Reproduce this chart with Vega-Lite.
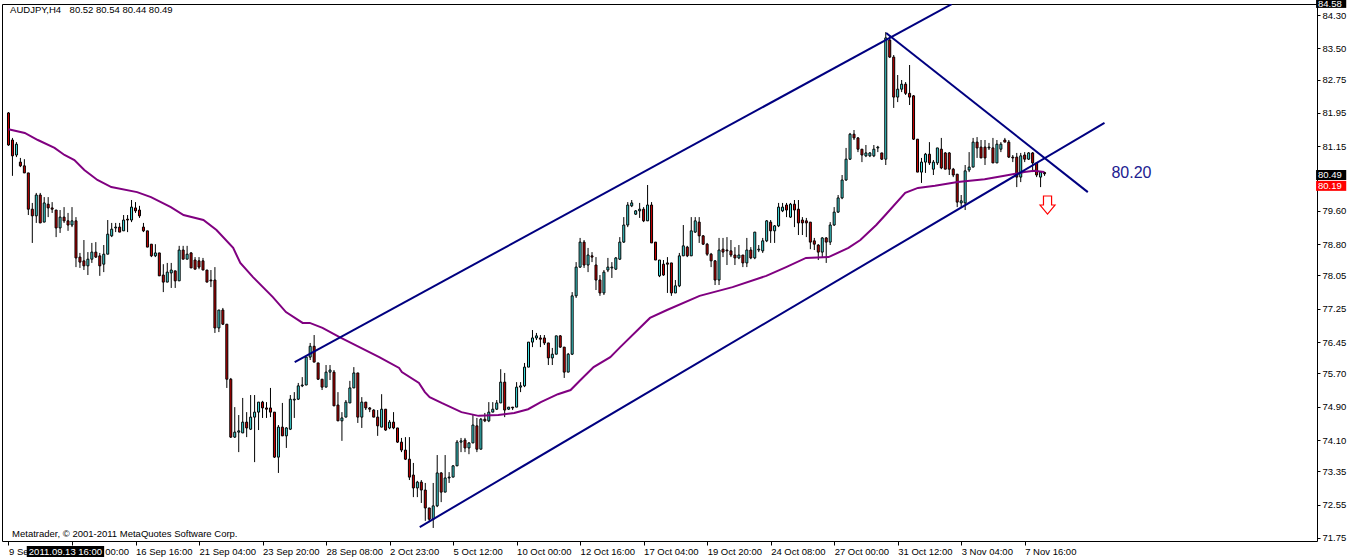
{
"$schema":"https://vega.github.io/schema/vega-lite/v6.json",
"width":1315,"height":537,
"autosize":"none",
"padding":{"left":2,"top":4,"right":39,"bottom":18},
"background":"#ffffff",
"config":{"view":{"stroke":"#000000","strokeWidth":1},"font":"Liberation Sans","axis":{"labelOverlap":false,"labelBound":false,"labelFlush":false,"grid":false}},
"resolve":{"axis":{"x":"independent","y":"independent"}},
"datasets":{
"c":[
{"i":0,"o":81.95,"h":81.97,"l":81.16,"c":81.18},{"i":1,"o":81.30,"h":81.35,"l":80.44,"c":80.92},{"i":2,"o":80.94,"h":81.25,"l":80.89,"c":81.20},{"i":3,"o":80.77,"h":80.87,"l":80.65,"c":80.68},{"i":4,"o":80.68,"h":80.84,"l":80.51,"c":80.51},{"i":5,"o":80.51,"h":80.51,"l":79.50,"c":79.64},{"i":6,"o":79.64,"h":79.79,"l":78.83,"c":79.48},{"i":7,"o":79.48,"h":80.03,"l":79.31,"c":79.98},{"i":8,"o":79.98,"h":80.03,"l":79.31,"c":79.31},{"i":9,"o":79.33,"h":79.93,"l":79.33,"c":79.79},
{"i":10,"o":79.76,"h":79.93,"l":79.45,"c":79.67},{"i":11,"o":79.67,"h":79.81,"l":79.55,"c":79.64},{"i":12,"o":79.62,"h":79.62,"l":78.97,"c":79.19},{"i":13,"o":79.19,"h":79.62,"l":79.07,"c":79.45},{"i":14,"o":79.45,"h":79.69,"l":79.31,"c":79.36},{"i":15,"o":79.36,"h":79.55,"l":79.12,"c":79.26},{"i":16,"o":79.26,"h":79.69,"l":79.21,"c":79.36},{"i":17,"o":79.36,"h":79.45,"l":78.25,"c":78.47},{"i":18,"o":78.49,"h":78.59,"l":78.23,"c":78.37},{"i":19,"o":78.40,"h":78.90,"l":78.18,"c":78.28},
{"i":20,"o":78.28,"h":78.61,"l":78.06,"c":78.44},{"i":21,"o":78.44,"h":78.83,"l":78.35,"c":78.61},{"i":22,"o":78.61,"h":78.85,"l":78.47,"c":78.49},{"i":23,"o":78.52,"h":78.59,"l":78.04,"c":78.28},{"i":24,"o":78.32,"h":78.78,"l":78.13,"c":78.56},{"i":25,"o":78.56,"h":79.38,"l":78.56,"c":79.04},{"i":26,"o":79.00,"h":79.31,"l":78.97,"c":79.16},{"i":27,"o":79.19,"h":79.31,"l":79.09,"c":79.21},{"i":28,"o":79.21,"h":79.31,"l":79.09,"c":79.09},{"i":29,"o":79.12,"h":79.50,"l":79.12,"c":79.38},
{"i":30,"o":79.40,"h":79.50,"l":79.09,"c":79.38},{"i":31,"o":79.38,"h":79.86,"l":79.33,"c":79.69},{"i":32,"o":79.67,"h":79.81,"l":79.55,"c":79.60},{"i":33,"o":79.62,"h":79.72,"l":79.43,"c":79.48},{"i":34,"o":79.21,"h":79.31,"l":79.09,"c":79.12},{"i":35,"o":79.12,"h":79.12,"l":78.73,"c":78.73},{"i":36,"o":78.80,"h":78.80,"l":78.49,"c":78.52},{"i":37,"o":78.52,"h":78.80,"l":78.49,"c":78.59},{"i":38,"o":78.59,"h":78.59,"l":78.04,"c":78.04},{"i":39,"o":78.06,"h":78.32,"l":77.65,"c":77.89},
{"i":40,"o":77.89,"h":78.35,"l":77.89,"c":78.13},{"i":41,"o":78.11,"h":78.35,"l":77.75,"c":78.18},{"i":42,"o":78.16,"h":78.16,"l":77.75,"c":77.92},{"i":43,"o":77.92,"h":78.76,"l":77.92,"c":78.66},{"i":44,"o":78.66,"h":78.76,"l":78.44,"c":78.44},{"i":45,"o":78.44,"h":78.76,"l":78.44,"c":78.56},{"i":46,"o":78.59,"h":78.61,"l":78.23,"c":78.23},{"i":47,"o":78.42,"h":78.49,"l":78.20,"c":78.20},{"i":48,"o":78.40,"h":78.49,"l":78.20,"c":78.25},{"i":49,"o":78.40,"h":78.47,"l":78.18,"c":78.18},
{"i":50,"o":78.18,"h":78.18,"l":77.89,"c":77.89},{"i":51,"o":77.94,"h":78.18,"l":77.77,"c":77.92},{"i":52,"o":77.94,"h":78.25,"l":76.67,"c":76.79},{"i":53,"o":76.79,"h":77.22,"l":76.69,"c":77.22},{"i":54,"o":77.22,"h":77.27,"l":76.86,"c":76.88},{"i":55,"o":76.88,"h":76.88,"l":75.35,"c":75.56},{"i":56,"o":75.56,"h":75.59,"l":74.15,"c":74.17},{"i":57,"o":74.17,"h":74.89,"l":74.15,"c":74.29},{"i":58,"o":74.29,"h":74.70,"l":73.81,"c":74.32},{"i":59,"o":74.27,"h":75.11,"l":74.27,"c":74.53},
{"i":60,"o":74.53,"h":74.77,"l":74.17,"c":74.39},{"i":61,"o":74.36,"h":75.18,"l":74.34,"c":74.65},{"i":62,"o":74.65,"h":75.18,"l":73.57,"c":74.77},{"i":63,"o":74.77,"h":75.01,"l":74.34,"c":75.01},{"i":64,"o":75.01,"h":75.04,"l":74.63,"c":74.87},{"i":65,"o":74.87,"h":75.01,"l":74.63,"c":74.84},{"i":66,"o":74.87,"h":75.35,"l":74.65,"c":74.77},{"i":67,"o":74.77,"h":74.77,"l":73.67,"c":73.69},{"i":68,"o":73.69,"h":74.46,"l":73.31,"c":74.41},{"i":69,"o":74.41,"h":74.99,"l":74.20,"c":74.20},
{"i":70,"o":74.20,"h":74.41,"l":73.91,"c":74.39},{"i":71,"o":74.36,"h":75.18,"l":74.34,"c":75.08},{"i":72,"o":75.06,"h":75.25,"l":74.63,"c":75.08},{"i":73,"o":75.08,"h":75.47,"l":75.06,"c":75.40},{"i":74,"o":75.40,"h":75.61,"l":75.37,"c":75.42},{"i":75,"o":75.42,"h":76.09,"l":75.42,"c":76.09},{"i":76,"o":76.09,"h":76.43,"l":76.02,"c":76.35},{"i":77,"o":76.35,"h":76.62,"l":75.97,"c":75.97},{"i":78,"o":75.95,"h":75.95,"l":75.54,"c":75.56},{"i":79,"o":75.56,"h":75.56,"l":75.30,"c":75.37},
{"i":80,"o":75.37,"h":75.90,"l":75.37,"c":75.73},{"i":81,"o":75.73,"h":75.90,"l":75.54,"c":75.78},{"i":82,"o":75.73,"h":75.78,"l":74.92,"c":74.92},{"i":83,"o":74.94,"h":75.25,"l":74.56,"c":74.56},{"i":84,"o":74.56,"h":74.77,"l":74.08,"c":74.63},{"i":85,"o":74.65,"h":75.06,"l":74.65,"c":75.01},{"i":86,"o":74.99,"h":75.52,"l":74.99,"c":75.35},{"i":87,"o":75.35,"h":75.85,"l":75.35,"c":75.71},{"i":88,"o":75.71,"h":75.71,"l":74.51,"c":74.65},{"i":89,"o":74.65,"h":75.13,"l":74.39,"c":75.01},
{"i":90,"o":75.01,"h":75.01,"l":74.82,"c":74.87},{"i":91,"o":74.87,"h":74.89,"l":74.77,"c":74.84},{"i":92,"o":74.82,"h":74.84,"l":74.65,"c":74.65},{"i":93,"o":74.65,"h":74.82,"l":74.20,"c":74.44},{"i":94,"o":74.41,"h":75.20,"l":74.41,"c":74.84},{"i":95,"o":74.84,"h":74.84,"l":74.32,"c":74.34},{"i":96,"o":74.39,"h":74.58,"l":74.36,"c":74.53},{"i":97,"o":74.53,"h":74.77,"l":74.36,"c":74.39},{"i":98,"o":74.39,"h":74.39,"l":74.03,"c":74.05},{"i":99,"o":74.05,"h":74.15,"l":73.81,"c":73.86},
{"i":100,"o":73.86,"h":74.17,"l":73.62,"c":73.64},{"i":101,"o":73.64,"h":74.17,"l":73.14,"c":73.21},{"i":102,"o":73.26,"h":73.55,"l":72.73,"c":72.95},{"i":103,"o":72.95,"h":73.12,"l":72.73,"c":73.09},{"i":104,"o":73.09,"h":73.14,"l":72.59,"c":72.90},{"i":105,"o":72.90,"h":73.07,"l":72.16,"c":72.47},{"i":106,"o":72.47,"h":72.47,"l":72.13,"c":72.20},{"i":107,"o":72.20,"h":73.07,"l":71.99,"c":72.52},{"i":108,"o":72.52,"h":73.74,"l":72.49,"c":73.31},{"i":109,"o":73.31,"h":73.33,"l":72.61,"c":72.85},
{"i":110,"o":72.85,"h":73.74,"l":72.85,"c":73.19},{"i":111,"o":73.19,"h":73.33,"l":73.07,"c":73.21},{"i":112,"o":73.21,"h":73.50,"l":73.21,"c":73.48},{"i":113,"o":73.48,"h":74.10,"l":73.48,"c":74.05},{"i":114,"o":74.05,"h":74.15,"l":73.81,"c":74.08},{"i":115,"o":74.10,"h":74.15,"l":73.81,"c":73.91},{"i":116,"o":73.91,"h":74.05,"l":73.76,"c":74.03},{"i":117,"o":74.03,"h":74.70,"l":74.03,"c":74.46},{"i":118,"o":74.44,"h":74.63,"l":73.81,"c":73.88},{"i":119,"o":73.88,"h":74.63,"l":73.88,"c":74.60},
{"i":120,"o":74.60,"h":74.75,"l":74.53,"c":74.56},{"i":121,"o":74.56,"h":75.01,"l":74.53,"c":74.77},{"i":122,"o":74.77,"h":75.01,"l":74.77,"c":74.84},{"i":123,"o":74.84,"h":75.06,"l":74.82,"c":74.99},{"i":124,"o":74.99,"h":75.80,"l":74.99,"c":75.49},{"i":125,"o":75.49,"h":75.71,"l":74.65,"c":74.82},{"i":126,"o":74.84,"h":74.89,"l":74.82,"c":74.89},{"i":127,"o":74.89,"h":74.89,"l":74.82,"c":74.87},{"i":128,"o":74.89,"h":75.49,"l":74.89,"c":75.37},{"i":129,"o":75.37,"h":75.49,"l":75.25,"c":75.40},
{"i":130,"o":75.40,"h":75.95,"l":75.37,"c":75.85},{"i":131,"o":75.85,"h":76.45,"l":75.85,"c":76.45},{"i":132,"o":76.45,"h":76.74,"l":76.33,"c":76.55},{"i":133,"o":76.55,"h":76.67,"l":76.50,"c":76.60},{"i":134,"o":76.55,"h":76.62,"l":76.33,"c":76.52},{"i":135,"o":76.55,"h":76.62,"l":76.38,"c":76.43},{"i":136,"o":76.43,"h":76.43,"l":75.90,"c":76.07},{"i":137,"o":76.07,"h":76.31,"l":75.90,"c":76.16},{"i":138,"o":76.16,"h":76.60,"l":76.16,"c":76.60},{"i":139,"o":76.60,"h":76.62,"l":76.31,"c":76.33},
{"i":140,"o":76.33,"h":76.33,"l":75.59,"c":75.73},{"i":141,"o":75.73,"h":76.19,"l":75.73,"c":76.16},{"i":142,"o":76.16,"h":77.65,"l":76.14,"c":77.56},{"i":143,"o":77.56,"h":78.37,"l":77.51,"c":78.25},{"i":144,"o":78.25,"h":78.95,"l":78.23,"c":78.85},{"i":145,"o":78.85,"h":78.90,"l":78.23,"c":78.30},{"i":146,"o":78.30,"h":78.71,"l":78.13,"c":78.54},{"i":147,"o":78.52,"h":78.61,"l":78.37,"c":78.49},{"i":148,"o":78.30,"h":78.49,"l":77.70,"c":77.94},{"i":149,"o":77.94,"h":78.06,"l":77.56,"c":77.63},
{"i":150,"o":77.63,"h":78.18,"l":77.58,"c":78.13},{"i":151,"o":78.18,"h":78.47,"l":78.13,"c":78.25},{"i":152,"o":78.23,"h":78.37,"l":77.99,"c":78.25},{"i":153,"o":78.20,"h":78.49,"l":78.18,"c":78.47},{"i":154,"o":78.44,"h":78.97,"l":78.42,"c":78.85},{"i":155,"o":78.85,"h":79.45,"l":78.83,"c":79.26},{"i":156,"o":79.26,"h":79.81,"l":79.21,"c":79.74},{"i":157,"o":79.72,"h":79.86,"l":79.69,"c":79.79},{"i":158,"o":79.52,"h":79.62,"l":79.50,"c":79.60},{"i":159,"o":79.60,"h":79.79,"l":79.43,"c":79.64},
{"i":160,"o":79.64,"h":79.69,"l":79.33,"c":79.36},{"i":161,"o":79.36,"h":80.22,"l":79.36,"c":79.74},{"i":162,"o":79.74,"h":79.81,"l":78.83,"c":78.83},{"i":163,"o":78.85,"h":78.85,"l":78.42,"c":78.42},{"i":164,"o":78.04,"h":78.42,"l":78.01,"c":78.42},{"i":165,"o":78.32,"h":78.42,"l":78.04,"c":78.06},{"i":166,"o":78.35,"h":78.49,"l":77.63,"c":78.32},{"i":167,"o":78.35,"h":78.35,"l":77.56,"c":77.63},{"i":168,"o":77.63,"h":77.94,"l":77.63,"c":77.80},{"i":169,"o":77.80,"h":78.59,"l":77.77,"c":78.52},
{"i":170,"o":78.52,"h":79.26,"l":78.52,"c":78.76},{"i":171,"o":78.73,"h":78.76,"l":78.49,"c":78.52},{"i":172,"o":78.52,"h":79.45,"l":78.52,"c":79.12},{"i":173,"o":79.09,"h":79.45,"l":79.07,"c":79.36},{"i":174,"o":79.33,"h":79.45,"l":78.83,"c":79.00},{"i":175,"o":79.00,"h":79.02,"l":78.78,"c":78.80},{"i":176,"o":78.80,"h":78.83,"l":78.52,"c":78.56},{"i":177,"o":78.56,"h":78.59,"l":78.25,"c":78.40},{"i":178,"o":78.40,"h":78.42,"l":77.82,"c":77.94},{"i":179,"o":77.94,"h":78.95,"l":77.82,"c":78.66},
{"i":180,"o":78.68,"h":78.95,"l":78.49,"c":78.61},{"i":181,"o":78.66,"h":78.97,"l":78.30,"c":78.64},{"i":182,"o":78.64,"h":78.90,"l":78.49,"c":78.54},{"i":183,"o":78.54,"h":78.73,"l":78.30,"c":78.47},{"i":184,"o":78.47,"h":78.78,"l":78.44,"c":78.54},{"i":185,"o":78.54,"h":78.54,"l":78.25,"c":78.35},{"i":186,"o":78.35,"h":78.95,"l":78.25,"c":78.66},{"i":187,"o":78.66,"h":78.73,"l":78.44,"c":78.47},{"i":188,"o":78.47,"h":79.09,"l":78.44,"c":79.09},{"i":189,"o":78.66,"h":78.78,"l":78.61,"c":78.68},
{"i":190,"o":78.64,"h":78.95,"l":78.59,"c":78.88},{"i":191,"o":78.88,"h":79.38,"l":78.85,"c":79.36},{"i":192,"o":79.33,"h":79.38,"l":78.83,"c":79.12},{"i":193,"o":79.12,"h":79.26,"l":78.83,"c":79.24},{"i":194,"o":79.24,"h":79.79,"l":79.21,"c":79.69},{"i":195,"o":79.60,"h":79.79,"l":79.57,"c":79.69},{"i":196,"o":79.74,"h":79.79,"l":79.45,"c":79.62},{"i":197,"o":79.45,"h":79.79,"l":79.43,"c":79.76},{"i":198,"o":79.76,"h":79.86,"l":79.21,"c":79.62},{"i":199,"o":79.64,"h":79.86,"l":79.02,"c":79.31},
{"i":200,"o":79.38,"h":79.45,"l":79.02,"c":79.31},{"i":201,"o":79.36,"h":79.43,"l":78.97,"c":79.31},{"i":202,"o":79.33,"h":79.33,"l":78.68,"c":78.85},{"i":203,"o":78.88,"h":78.95,"l":78.66,"c":78.80},{"i":204,"o":78.78,"h":78.80,"l":78.42,"c":78.61},{"i":205,"o":78.61,"h":78.97,"l":78.49,"c":78.95},{"i":206,"o":78.95,"h":78.97,"l":78.35,"c":78.85},{"i":207,"o":78.85,"h":79.33,"l":78.78,"c":79.26},{"i":208,"o":79.26,"h":79.69,"l":79.24,"c":79.57},{"i":209,"o":79.57,"h":79.98,"l":79.55,"c":79.91},
{"i":210,"o":79.91,"h":80.46,"l":79.88,"c":80.34},{"i":211,"o":80.34,"h":81.11,"l":80.32,"c":80.84},{"i":212,"o":80.84,"h":81.47,"l":80.82,"c":81.44},{"i":213,"o":81.44,"h":81.54,"l":81.30,"c":81.35},{"i":214,"o":81.35,"h":81.37,"l":81.01,"c":81.08},{"i":215,"o":81.08,"h":81.08,"l":80.77,"c":80.94},{"i":216,"o":80.92,"h":81.18,"l":80.89,"c":80.99},{"i":217,"o":80.92,"h":81.01,"l":80.89,"c":80.99},{"i":218,"o":80.92,"h":81.18,"l":80.89,"c":81.08},{"i":219,"o":81.11,"h":81.16,"l":81.01,"c":81.13},
{"i":220,"o":80.99,"h":80.99,"l":80.82,"c":80.84},{"i":221,"o":80.84,"h":83.89,"l":80.70,"c":83.75},{"i":222,"o":83.70,"h":83.82,"l":83.27,"c":83.29},{"i":223,"o":83.29,"h":83.34,"l":82.07,"c":82.33},{"i":224,"o":82.33,"h":82.86,"l":82.21,"c":82.52},{"i":225,"o":82.52,"h":82.74,"l":82.45,"c":82.64},{"i":226,"o":82.64,"h":82.69,"l":82.38,"c":82.42},{"i":227,"o":82.42,"h":83.10,"l":82.14,"c":82.33},{"i":228,"o":82.36,"h":82.38,"l":81.30,"c":81.32},{"i":229,"o":81.32,"h":81.32,"l":80.53,"c":80.53},
{"i":230,"o":80.53,"h":80.87,"l":80.27,"c":80.77},{"i":231,"o":80.77,"h":80.99,"l":80.51,"c":80.96},{"i":232,"o":80.96,"h":81.25,"l":80.70,"c":80.75},{"i":233,"o":80.60,"h":80.82,"l":80.46,"c":80.77},{"i":234,"o":80.75,"h":81.11,"l":80.70,"c":81.11},{"i":235,"o":81.08,"h":81.35,"l":80.60,"c":80.63},{"i":236,"o":80.99,"h":81.01,"l":80.60,"c":80.60},{"i":237,"o":80.99,"h":81.01,"l":80.46,"c":80.60},{"i":238,"o":80.60,"h":80.63,"l":80.41,"c":80.46},{"i":239,"o":80.48,"h":80.48,"l":79.69,"c":79.81},
{"i":240,"o":79.79,"h":79.98,"l":79.69,"c":79.84},{"i":241,"o":79.79,"h":80.70,"l":79.62,"c":80.56},{"i":242,"o":80.58,"h":81.01,"l":80.53,"c":80.65},{"i":243,"o":80.65,"h":81.35,"l":80.65,"c":81.25},{"i":244,"o":81.25,"h":81.37,"l":80.87,"c":81.11},{"i":245,"o":81.13,"h":81.30,"l":80.87,"c":80.87},{"i":246,"o":81.13,"h":81.30,"l":80.70,"c":80.87},{"i":247,"o":81.11,"h":81.23,"l":81.06,"c":81.13},{"i":248,"o":81.11,"h":81.35,"l":80.75,"c":80.75},{"i":249,"o":80.75,"h":81.30,"l":80.75,"c":81.20},
{"i":250,"o":81.08,"h":81.25,"l":81.01,"c":81.20},{"i":251,"o":81.30,"h":81.35,"l":81.25,"c":81.25},{"i":252,"o":81.25,"h":81.30,"l":80.87,"c":80.89},{"i":253,"o":80.89,"h":80.94,"l":80.77,"c":80.87},{"i":254,"o":80.89,"h":80.99,"l":80.17,"c":80.41},{"i":255,"o":80.41,"h":80.99,"l":80.29,"c":80.92},{"i":256,"o":80.94,"h":81.01,"l":80.77,"c":80.84},{"i":257,"o":80.84,"h":81.01,"l":80.82,"c":80.99},{"i":258,"o":80.99,"h":81.01,"l":80.53,"c":80.75},{"i":259,"o":80.75,"h":80.77,"l":80.41,"c":80.46},
{"i":260,"o":80.41,"h":80.53,"l":80.17,"c":80.53},{"i":261,"o":80.52,"h":80.54,"l":80.44,"c":80.49}
],
"ma":[
{"i":0,"p":81.56},{"i":4.1,"p":81.47},{"i":7.4,"p":81.30},{"i":11.6,"p":81.11},{"i":14.1,"p":80.94},{"i":16.6,"p":80.82},{"i":19.1,"p":80.58},{"i":22.4,"p":80.34},{"i":25.9,"p":80.17},{"i":32.4,"p":80.05},{"i":35.9,"p":79.93},{"i":40.9,"p":79.69},{"i":44.1,"p":79.50},{"i":49.1,"p":79.38},{"i":52.4,"p":79.14},{"i":56.6,"p":78.71},{"i":58.4,"p":78.35},{"i":61.6,"p":78.01},{"i":66.6,"p":77.53},{"i":69.9,"p":77.17},{"i":74.1,"p":76.91},{"i":75.9,"p":76.91},{"i":79.1,"p":76.79},{"i":83.4,"p":76.57},{"i":87.4,"p":76.38},{"i":93.4,"p":76.09},{"i":98.4,"p":75.83},{"i":99.1,"p":75.73},{"i":103.4,"p":75.47},{"i":104.9,"p":75.25},{"i":106.1,"p":75.13},{"i":109.1,"p":74.99},{"i":114.1,"p":74.77},{"i":118.4,"p":74.68},{"i":123.4,"p":74.70},{"i":127.4,"p":74.75},{"i":130.9,"p":74.84},{"i":134.1,"p":75.01},{"i":138.4,"p":75.20},{"i":141.6,"p":75.30},{"i":144.1,"p":75.54},{"i":147.4,"p":75.85},{"i":151.6,"p":76.09},{"i":154.1,"p":76.33},{"i":161.6,"p":77.03},{"i":165.9,"p":77.22},{"i":174.1,"p":77.56},{"i":182.4,"p":77.77},{"i":190.9,"p":78.04},{"i":195.9,"p":78.25},{"i":200.9,"p":78.47},{"i":206.6,"p":78.49},{"i":211.6,"p":78.71},{"i":214.6,"p":78.90},{"i":218.6,"p":79.26},{"i":220.9,"p":79.50},{"i":225.9,"p":80.03},{"i":229.1,"p":80.15},{"i":233.4,"p":80.20},{"i":239.1,"p":80.29},{"i":245.9,"p":80.36},{"i":250.9,"p":80.44},{"i":255.9,"p":80.53},{"i":258.4,"p":80.56},{"i":260.9,"p":80.53}
],
"ln":[
{"id":"up","i":72.1,"p":75.97},{"id":"up","i":237.6,"p":84.56},
{"id":"low","i":103.6,"p":72.01},{"id":"low","i":276.1,"p":81.71},
{"id":"down","i":221.1,"p":83.87},{"id":"down","i":271.9,"p":80.05}
],
"tx":[
{"i":0.4,"p":84.42,"t":"AUDJPY,H4"},
{"i":15.4,"p":84.42,"t":"80.52 80.54 80.44 80.49"},
{"i":0.9,"p":71.85,"t":"Metatrader, © 2001-2011 MetaQuotes Software Corp."}
],
"box":[
{"k":"black","i1":329.4,"i2":337.0,"p1":84.66,"p2":84.47},
{"k":"black","i1":329.4,"i2":337.0,"p1":80.58,"p2":80.34},
{"k":"red","i1":329.4,"i2":337.0,"p1":80.32,"p2":80.08},
{"k":"black","i1":4.6,"i2":24.1,"p1":71.556,"p2":71.292}
],
"boxr":[
{"i":329.9,"p":84.57,"t":"84.58"},
{"i":329.9,"p":80.46,"t":"80.49"},
{"i":329.9,"p":80.20,"t":"80.19"}
],
"boxb":[
{"i":14.35,"p":71.42,"t":"2011.09.13 16:00"}
]
},
"layer":[
{"data":{"name":"c"},"mark":{"type":"rule","color":"#000000","strokeWidth":1},
"encoding":{
"x":{"field":"i","type":"quantitative","title":null,"scale":{"domain":[-0.375,328.375],"nice":false,"zero":false},
"axis":{"title":null,"orient":"bottom","values":[0,16,32,48,64,80,96,112,128,144,160,176,192,208,224,240,256],"labelExpr":"['9 Sep 2011','14 Sep 00:00','16 Sep 16:00','21 Sep 04:00','23 Sep 20:00','28 Sep 08:00','2 Oct 23:00','5 Oct 12:00','10 Oct 00:00','12 Oct 16:00','17 Oct 04:00','19 Oct 20:00','24 Oct 08:00','27 Oct 00:00','31 Oct 12:00','3 Nov 04:00','7 Nov 16:00'][round(datum.value/16)]","grid":false,"domain":false,"ticks":true,"tickSize":4,"tickColor":"#000000","labelAlign":"left","labelPadding":1,"labelFont":"Liberation Sans","labelFontSize":9.5,"labelColor":"#000000","labelOverlap":false,"labelBound":false,"labelFlush":false}},
"y":{"field":"l","type":"quantitative","title":null,"scale":{"domain":[71.677,84.564],"nice":false,"zero":false},
"axis":{"title":null,"orient":"right","values":[84.30,83.50,82.75,81.95,81.15,79.60,78.80,78.05,77.25,76.45,75.70,74.90,74.10,73.35,72.55,71.75],"format":".2f","grid":false,"domain":false,"ticks":true,"tickSize":3,"tickColor":"#000000","labelPadding":2,"labelFont":"Liberation Sans","labelFontSize":9.5,"labelColor":"#000000","labelOverlap":false,"labelSeparation":-50,"labelBound":false,"labelFlush":false}},
"y2":{"field":"h"}
}},
{"data":{"name":"c"},"mark":{"type":"bar","width":2,"stroke":"#000000","strokeWidth":1},
"encoding":{
"x":{"field":"i","type":"quantitative","axis":null,"scale":{"domain":[-0.375,328.375],"nice":false,"zero":false}},
"y":{"field":"o","type":"quantitative","axis":null,"scale":{"domain":[71.677,84.564],"nice":false,"zero":false}},
"y2":{"field":"c"},
"fill":{"condition":{"test":"datum.c >= datum.o","value":"#40e0e0"},"value":"#c80000"}
}},
{"mark":{"type":"rule","color":"#c0c0c0","strokeWidth":1},"encoding":{"y":{"datum":80.47,"type":"quantitative","axis":null,"scale":{"domain":[71.677,84.564],"nice":false,"zero":false}}}},
{"mark":{"type":"rule","color":"#ff0000","strokeWidth":2},"encoding":{"y":{"datum":80.19,"type":"quantitative","axis":null,"scale":{"domain":[71.677,84.564],"nice":false,"zero":false}}}},
{"mark":{"type":"rule","color":"#000000","strokeWidth":1},"encoding":{"y":{"datum":84.636,"type":"quantitative","axis":null,"scale":{"domain":[71.677,84.564],"nice":false,"zero":false}}}},
{"mark":{"type":"rule","color":"#000000","strokeWidth":1},"encoding":{"x":{"datum":14.6,"type":"quantitative","axis":null,"scale":{"domain":[-0.375,328.375],"nice":false,"zero":false}}}},
{"data":{"name":"ma"},"mark":{"type":"line","color":"#800080","strokeWidth":2},
"encoding":{
"x":{"field":"i","type":"quantitative","axis":null,"scale":{"domain":[-0.375,328.375],"nice":false,"zero":false}},
"y":{"field":"p","type":"quantitative","axis":null,"scale":{"domain":[71.677,84.564],"nice":false,"zero":false}}
}},
{"data":{"name":"ln"},"mark":{"type":"line","color":"#000080","strokeWidth":2,"clip":true},
"encoding":{
"x":{"field":"i","type":"quantitative","axis":null,"scale":{"domain":[-0.375,328.375],"nice":false,"zero":false}},
"y":{"field":"p","type":"quantitative","axis":null,"scale":{"domain":[71.677,84.564],"nice":false,"zero":false}},
"detail":{"field":"id"}
}},
{"data":{"name":"tx"},"mark":{"type":"text","align":"left","font":"Liberation Sans","fontSize":9.5,"color":"#000000"},
"encoding":{
"x":{"field":"i","type":"quantitative","axis":null,"scale":{"domain":[-0.375,328.375],"nice":false,"zero":false}},
"y":{"field":"p","type":"quantitative","axis":null,"scale":{"domain":[71.677,84.564],"nice":false,"zero":false}},
"text":{"field":"t"}
}},
{"data":{"values":[{"i":282.9,"p":80.51,"t":"80.20"}]},"mark":{"type":"text","align":"center","font":"Liberation Sans","fontSize":16,"color":"#202090"},
"encoding":{
"x":{"field":"i","type":"quantitative","axis":null,"scale":{"domain":[-0.375,328.375],"nice":false,"zero":false}},
"y":{"field":"p","type":"quantitative","axis":null,"scale":{"domain":[71.677,84.564],"nice":false,"zero":false}},
"text":{"field":"t"}
}},
{"data":{"values":[{"i":261.75,"p":79.74}]},"mark":{"type":"point","shape":"M-0.45,-1L0.45,-1L0.45,0L0.83,0L0,1L-0.83,0L-0.45,0Z","size":324,"filled":true,"fill":"#ffffff","stroke":"#ff0000","strokeWidth":1.2,"opacity":1},
"encoding":{
"x":{"field":"i","type":"quantitative","axis":null,"scale":{"domain":[-0.375,328.375],"nice":false,"zero":false}},
"y":{"field":"p","type":"quantitative","axis":null,"scale":{"domain":[71.677,84.564],"nice":false,"zero":false}}
}},
{"data":{"name":"box"},"mark":{"type":"rect"},
"encoding":{
"x":{"field":"i1","type":"quantitative","axis":null,"scale":{"domain":[-0.375,328.375],"nice":false,"zero":false}},
"x2":{"field":"i2"},
"y":{"field":"p1","type":"quantitative","axis":null,"scale":{"domain":[71.677,84.564],"nice":false,"zero":false}},
"y2":{"field":"p2"},
"fill":{"field":"k","type":"nominal","scale":{"domain":["black","red"],"range":["#000000","#ff0000"]},"legend":null}
}},
{"data":{"name":"boxr"},"mark":{"type":"text","align":"left","font":"Liberation Sans","fontSize":9.5,"color":"#ffffff"},
"encoding":{
"x":{"field":"i","type":"quantitative","axis":null,"scale":{"domain":[-0.375,328.375],"nice":false,"zero":false}},
"y":{"field":"p","type":"quantitative","axis":null,"scale":{"domain":[71.677,84.564],"nice":false,"zero":false}},
"text":{"field":"t"}
}},
{"data":{"name":"boxb"},"mark":{"type":"text","align":"center","font":"Liberation Sans","fontSize":9.5,"color":"#ffffff"},
"encoding":{
"x":{"field":"i","type":"quantitative","axis":null,"scale":{"domain":[-0.375,328.375],"nice":false,"zero":false}},
"y":{"field":"p","type":"quantitative","axis":null,"scale":{"domain":[71.677,84.564],"nice":false,"zero":false}},
"text":{"field":"t"}
}}
]
}
